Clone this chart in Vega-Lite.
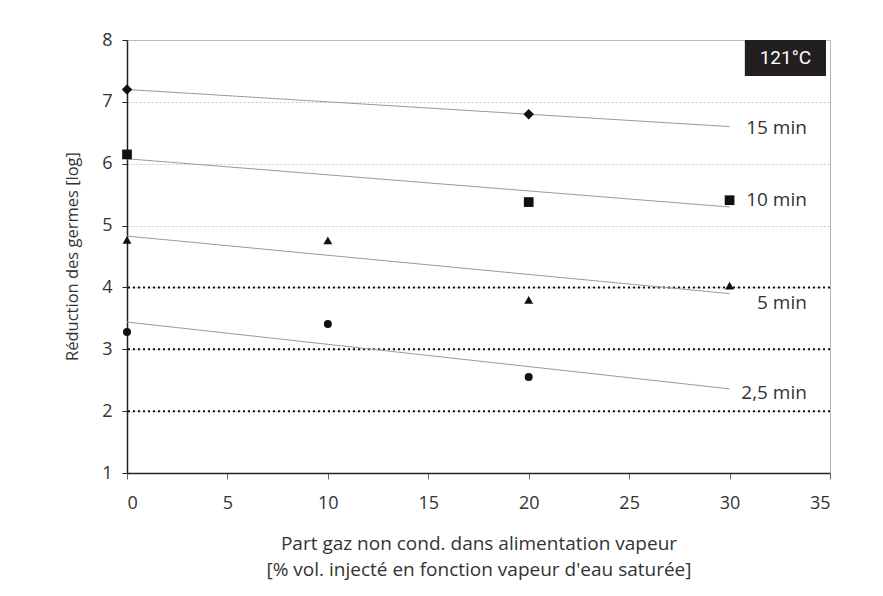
{
  "$schema": "https://vega.github.io/schema/vega-lite/v6.json",
  "width": 703,
  "height": 433,
  "autosize": {"type": "none"},
  "padding": {"left": 127, "top": 40, "right": 53, "bottom": 123},
  "background": "white",
  "config": {
    "font": "Open Sans",
    "view": {"stroke": "#b3b3b3", "strokeWidth": 1},
    "axis": {
      "labelFont": "Open Sans",
      "titleFont": "Open Sans",
      "labelFontSize": 18,
      "titleFontSize": 19,
      "labelColor": "#333333",
      "titleColor": "#333333",
      "titleFontWeight": "normal",
      "domainColor": "#222222",
      "domainWidth": 1.5,
      "tickColor": "#666666",
      "tickSize": 6,
      "format": "d"
    }
  },
  "datasets": {
    "points": [
      {"gaz": 0, "reduction": 7.2, "serie": "15 min"},
      {"gaz": 20, "reduction": 6.8, "serie": "15 min"},
      {"gaz": 0, "reduction": 6.15, "serie": "10 min"},
      {"gaz": 20, "reduction": 5.38, "serie": "10 min"},
      {"gaz": 30, "reduction": 5.41, "serie": "10 min"},
      {"gaz": 0, "reduction": 4.77, "serie": "5 min"},
      {"gaz": 10, "reduction": 4.76, "serie": "5 min"},
      {"gaz": 20, "reduction": 3.8, "serie": "5 min"},
      {"gaz": 30, "reduction": 4.03, "serie": "5 min"},
      {"gaz": 0, "reduction": 3.28, "serie": "2,5 min"},
      {"gaz": 10, "reduction": 3.41, "serie": "2,5 min"},
      {"gaz": 20, "reduction": 2.55, "serie": "2,5 min"}
    ],
    "trends": [
      {"gaz": 0, "reduction": 7.2, "serie": "15 min"},
      {"gaz": 30, "reduction": 6.6, "serie": "15 min"},
      {"gaz": 0, "reduction": 6.08, "serie": "10 min"},
      {"gaz": 30, "reduction": 5.3, "serie": "10 min"},
      {"gaz": 0, "reduction": 4.83, "serie": "5 min"},
      {"gaz": 30, "reduction": 3.9, "serie": "5 min"},
      {"gaz": 0, "reduction": 3.44, "serie": "2,5 min"},
      {"gaz": 30, "reduction": 2.36, "serie": "2,5 min"}
    ],
    "labels": [
      {"gaz": 33.85, "reduction": 6.58, "serie": "15 min"},
      {"gaz": 33.85, "reduction": 5.41, "serie": "10 min"},
      {"gaz": 33.85, "reduction": 3.75, "serie": "5 min"},
      {"gaz": 33.85, "reduction": 2.29, "serie": "2,5 min"}
    ],
    "seuils": [
      {"reduction": 2},
      {"reduction": 3},
      {"reduction": 4}
    ],
    "temp": [
      {"x1": 30.76, "x2": 34.8, "y1": 7.42, "y2": 8.0, "xm": 32.78, "ym": 7.71, "texte": "121°C"}
    ]
  },
  "layer": [
    {
      "data": {"name": "seuils"},
      "mark": {"type": "rule", "color": "#111111", "strokeWidth": 2, "strokeDash": [2, 3]},
      "encoding": {
        "y": {
          "field": "reduction",
          "type": "quantitative",
          "scale": {"domain": [1, 8], "nice": false, "zero": false},
          "axis": {
            "values": [1, 2, 3, 4, 5, 6, 7, 8],
            "title": "Réduction des germes [log]",
            "titleX": -55,
            "titleY": 216,
            "titleAlign": "center",
            "titleBaseline": "middle",
            "titleAngle": -90,
            "titleFontSize": 16.5,
            "labelPadding": 10,
            "grid": true,
            "gridColor": "#c8c8c8",
            "gridDash": [2, 2],
            "gridWidth": 1,
            "tickColor": "#222222",
            "tickSize": 5
          }
        }
      }
    },
    {
      "data": {"name": "trends"},
      "mark": {"type": "line", "color": "#9a9a9a", "strokeWidth": 1},
      "encoding": {
        "x": {
          "field": "gaz",
          "type": "quantitative",
          "scale": {"domain": [0, 35], "nice": false},
          "axis": {
            "values": [0, 5, 10, 15, 20, 25, 30, 35],
            "title": ["Part gaz non cond. dans alimentation vapeur", "[% vol. injecté en fonction vapeur d'eau saturée]"],
            "titleY": 76,
            "titleBaseline": "alphabetic",
            "titleLineHeight": 26,
            "labelPadding": 15,
            "grid": false
          }
        },
        "y": {"field": "reduction", "type": "quantitative"},
        "detail": {"field": "serie"}
      }
    },
    {
      "data": {"name": "points"},
      "mark": {"type": "point", "filled": true, "color": "#111111", "opacity": 1},
      "encoding": {
        "x": {"field": "gaz", "type": "quantitative"},
        "y": {"field": "reduction", "type": "quantitative"},
        "shape": {
          "field": "serie",
          "type": "nominal",
          "scale": {"domain": ["15 min", "10 min", "5 min", "2,5 min"], "range": ["diamond", "square", "triangle-up", "circle"]},
          "legend": null
        },
        "size": {
          "field": "serie",
          "type": "ordinal",
          "scale": {"domain": ["15 min", "10 min", "5 min", "2,5 min"], "range": [110, 64, 100, 80]},
          "legend": null
        }
      }
    },
    {
      "data": {"name": "labels"},
      "mark": {"type": "text", "align": "right", "baseline": "middle", "fontSize": 19, "color": "#333333", "font": "Open Sans"},
      "encoding": {
        "x": {"field": "gaz", "type": "quantitative"},
        "y": {"field": "reduction", "type": "quantitative"},
        "text": {"field": "serie"}
      }
    },
    {
      "data": {"name": "temp"},
      "mark": {"type": "rect", "color": "#231f20"},
      "encoding": {
        "x": {"field": "x1", "type": "quantitative"},
        "x2": {"field": "x2"},
        "y": {"field": "y1", "type": "quantitative"},
        "y2": {"field": "y2"}
      }
    },
    {
      "data": {"name": "temp"},
      "mark": {"type": "text", "align": "center", "baseline": "middle", "fontSize": 19, "color": "white", "font": "Roboto"},
      "encoding": {
        "x": {"field": "xm", "type": "quantitative"},
        "y": {"field": "ym", "type": "quantitative"},
        "text": {"field": "texte"}
      }
    }
  ]
}
